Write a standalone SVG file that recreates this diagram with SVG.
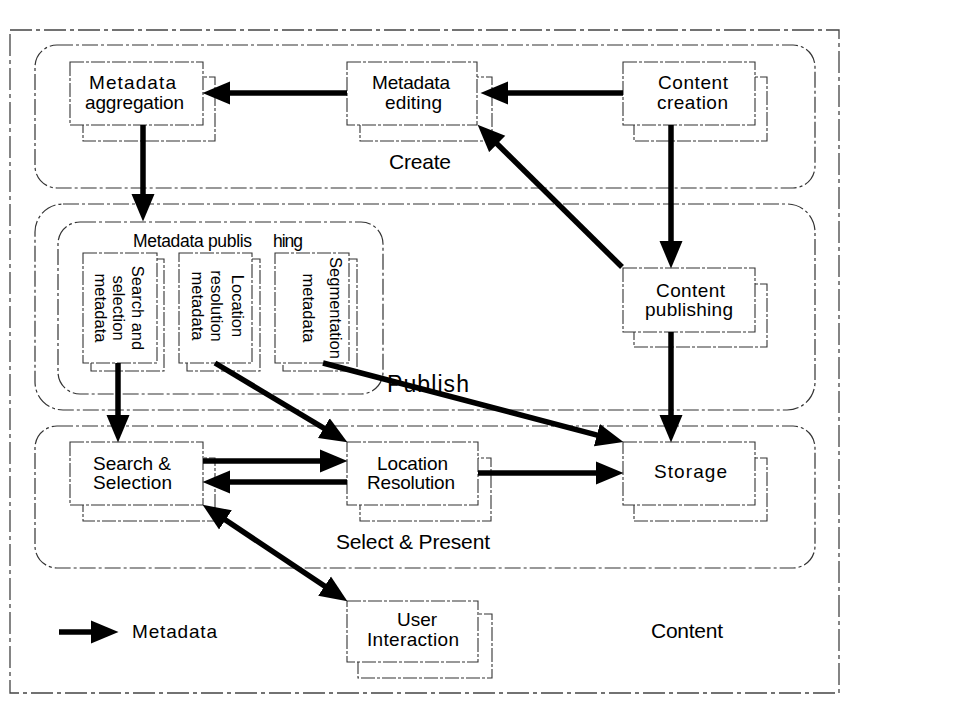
<svg xmlns="http://www.w3.org/2000/svg" width="962" height="715" viewBox="0 0 962 715">
<style>
  .frame{fill:none;stroke:#444;stroke-width:1.3;stroke-dasharray:22 4 4 4}
  .region{fill:none;stroke:#333;stroke-width:1.2;stroke-dasharray:16 3 3 3}
  .box{fill:#fff;stroke:#333;stroke-width:1.1;stroke-dasharray:14 2 3 2}
  .lbl{font-family:"Liberation Sans",Arial,Helvetica,sans-serif;font-size:19px;fill:#000}
  .reg{font-family:"Liberation Sans",Arial,Helvetica,sans-serif;font-size:21px;fill:#000}
  .vt{font-family:"Liberation Sans",Arial,Helvetica,sans-serif;font-size:16.5px;fill:#000}
  .arr{stroke:#000;stroke-width:5.5;fill:none;marker-end:url(#ah)}
  .arr2{stroke:#000;stroke-width:5.5;fill:none;marker-end:url(#ah);marker-start:url(#ahs)}
</style>
<defs>
  <marker id="ah" markerUnits="userSpaceOnUse" markerWidth="28" markerHeight="24" viewBox="0 0 28 24" refX="17" refY="12" orient="auto">
    <path d="M0,0.5 L27.5,12 L0,23.5 z" fill="#000"/>
  </marker>
  <marker id="ahs" markerUnits="userSpaceOnUse" markerWidth="28" markerHeight="24" viewBox="0 0 28 24" refX="17" refY="12" orient="auto-start-reverse">
    <path d="M0,0.5 L27.5,12 L0,23.5 z" fill="#000"/>
  </marker>
</defs>
<rect width="962" height="715" fill="#fff"/>

<!-- outer frame and regions -->
<g id="content-frame">
  <rect class="frame" x="10" y="30" width="829" height="663"/>
  <text class="reg" x="651" y="638" textLength="72" lengthAdjust="spacing">Content</text>
</g>
<g id="region-create">
  <rect class="region" x="35" y="45" width="780" height="143" rx="22" ry="22"/>
  <text class="reg" x="389" y="169" textLength="62" lengthAdjust="spacing">Create</text>
</g>
<g id="region-publish">
  <rect class="region" x="35" y="204" width="780" height="206" rx="28" ry="28"/>
  <text class="reg" x="387" y="392" style="font-size:23px" textLength="82" lengthAdjust="spacing">Publish</text>
</g>
<g id="region-select">
  <rect class="region" x="35" y="426" width="780" height="142" rx="22" ry="22"/>
  <text class="reg" x="336" y="549" textLength="154" lengthAdjust="spacing">Select &amp; Present</text>
</g>
<g id="metadata-publishing">
  <rect class="region" x="58" y="222" width="325" height="172" rx="22" ry="22"/>
  <text class="lbl" x="133" y="247" style="font-size:17.5px" textLength="119" lengthAdjust="spacing">Metadata publis</text>
  <text class="lbl" x="273" y="247" style="font-size:17.5px" textLength="30" lengthAdjust="spacing">hing</text>
</g>

<!-- nodes -->
<g id="metadata-aggregation">
  <rect class="box" x="83" y="77" width="132" height="64"/>
  <rect class="box" x="70" y="62" width="133" height="63"/>
  <text class="lbl" x="89" y="89" textLength="87" lengthAdjust="spacing">Metadata</text>
  <text class="lbl" x="85" y="109" textLength="99" lengthAdjust="spacing">aggregation</text>
</g>
<g id="metadata-editing">
  <rect class="box" x="360" y="77" width="132" height="64"/>
  <rect class="box" x="347" y="62" width="130" height="63"/>
  <text class="lbl" x="372" y="89" textLength="78" lengthAdjust="spacing">Metadata</text>
  <text class="lbl" x="385" y="109" textLength="57" lengthAdjust="spacing">editing</text>
</g>
<g id="content-creation">
  <rect class="box" x="634" y="77" width="133" height="64"/>
  <rect class="box" x="623" y="62" width="132" height="63"/>
  <text class="lbl" x="658" y="89" textLength="70" lengthAdjust="spacing">Content</text>
  <text class="lbl" x="657" y="109" textLength="71" lengthAdjust="spacing">creation</text>
</g>
<g id="content-publishing">
  <rect class="box" x="634" y="284" width="133" height="63"/>
  <rect class="box" x="623" y="268" width="132" height="64"/>
  <text class="lbl" x="656" y="297" textLength="69" lengthAdjust="spacing">Content</text>
  <text class="lbl" x="645" y="316" textLength="88" lengthAdjust="spacing">publishing</text>
</g>
<g id="search-selection-metadata">
  <rect class="box" x="91" y="259" width="73" height="112"/>
  <rect class="box" x="83" y="253" width="74" height="110"/>
  <text class="vt" transform="translate(132,308) rotate(90)" text-anchor="middle"><tspan x="0" y="0">Search and</tspan><tspan x="0" y="19">selection</tspan><tspan x="0" y="37">metadata</tspan></text>
</g>
<g id="location-resolution-metadata">
  <rect class="box" x="187" y="259" width="73" height="112"/>
  <rect class="box" x="179" y="253" width="73" height="110"/>
  <text class="vt" transform="translate(232,306) rotate(90)" text-anchor="middle"><tspan x="0" y="0">Location</tspan><tspan x="0" y="21">resolution</tspan><tspan x="0" y="40">metadata</tspan></text>
</g>
<g id="segmentation-metadata">
  <rect class="box" x="283" y="259" width="74" height="112"/>
  <rect class="box" x="275" y="253" width="74" height="110"/>
  <text class="vt" transform="translate(330,308) rotate(90)" text-anchor="middle"><tspan x="0" y="0">Segmentation</tspan><tspan x="0" y="27">metadata</tspan></text>
</g>
<g id="search-selection">
  <rect class="box" x="83" y="458" width="132" height="63"/>
  <rect class="box" x="70" y="442" width="133" height="63"/>
  <text class="lbl" x="93" y="470" textLength="78" lengthAdjust="spacing">Search &amp;</text>
  <text class="lbl" x="93" y="489" textLength="79" lengthAdjust="spacing">Selection</text>
</g>
<g id="location-resolution">
  <rect class="box" x="360" y="458" width="131" height="63"/>
  <rect class="box" x="347" y="442" width="131" height="63"/>
  <text class="lbl" x="377" y="470" textLength="71" lengthAdjust="spacing">Location</text>
  <text class="lbl" x="367" y="489" textLength="88" lengthAdjust="spacing">Resolution</text>
</g>
<g id="storage">
  <rect class="box" x="634" y="458" width="133" height="63"/>
  <rect class="box" x="623" y="442" width="132" height="63"/>
  <text class="lbl" x="654" y="478" textLength="73" lengthAdjust="spacing">Storage</text>
</g>
<g id="user-interaction">
  <rect class="box" x="358" y="614" width="134" height="64"/>
  <rect class="box" x="347" y="601" width="131" height="61"/>
  <text class="lbl" x="397" y="626" textLength="40" lengthAdjust="spacing">User</text>
  <text class="lbl" x="367" y="646" textLength="92" lengthAdjust="spacing">Interaction</text>
</g>

<!-- connectors -->
<g id="connectors">
  <line class="arr" x1="347" y1="93" x2="213" y2="93"/>
  <line class="arr" x1="623" y1="93" x2="491" y2="93"/>
  <line class="arr" x1="143" y1="125" x2="143" y2="211"/>
  <line class="arr" x1="671" y1="125" x2="671" y2="258"/>
  <line class="arr" x1="622" y1="267" x2="485.1" y2="132"/>
  <line class="arr" x1="671" y1="332" x2="671" y2="432"/>
  <line class="arr" x1="118" y1="363" x2="118" y2="432"/>
  <line class="arr" x1="215" y1="363" x2="338.4" y2="436.9"/>
  <line class="arr" x1="323" y1="363" x2="613.3" y2="439.4"/>
  <line class="arr" x1="203" y1="461" x2="337" y2="461"/>
  <line class="arr" x1="347" y1="482" x2="213" y2="482"/>
  <line class="arr" x1="478" y1="473" x2="613" y2="473"/>
  <line class="arr2" x1="211.3" y1="510.5" x2="338.7" y2="595.5"/>
</g>

<!-- legend -->
<g id="legend">
  <line class="arr" x1="59" y1="632" x2="108" y2="632"/>
  <text class="lbl" x="132" y="638" textLength="85" lengthAdjust="spacing">Metadata</text>
</g>
</svg>
